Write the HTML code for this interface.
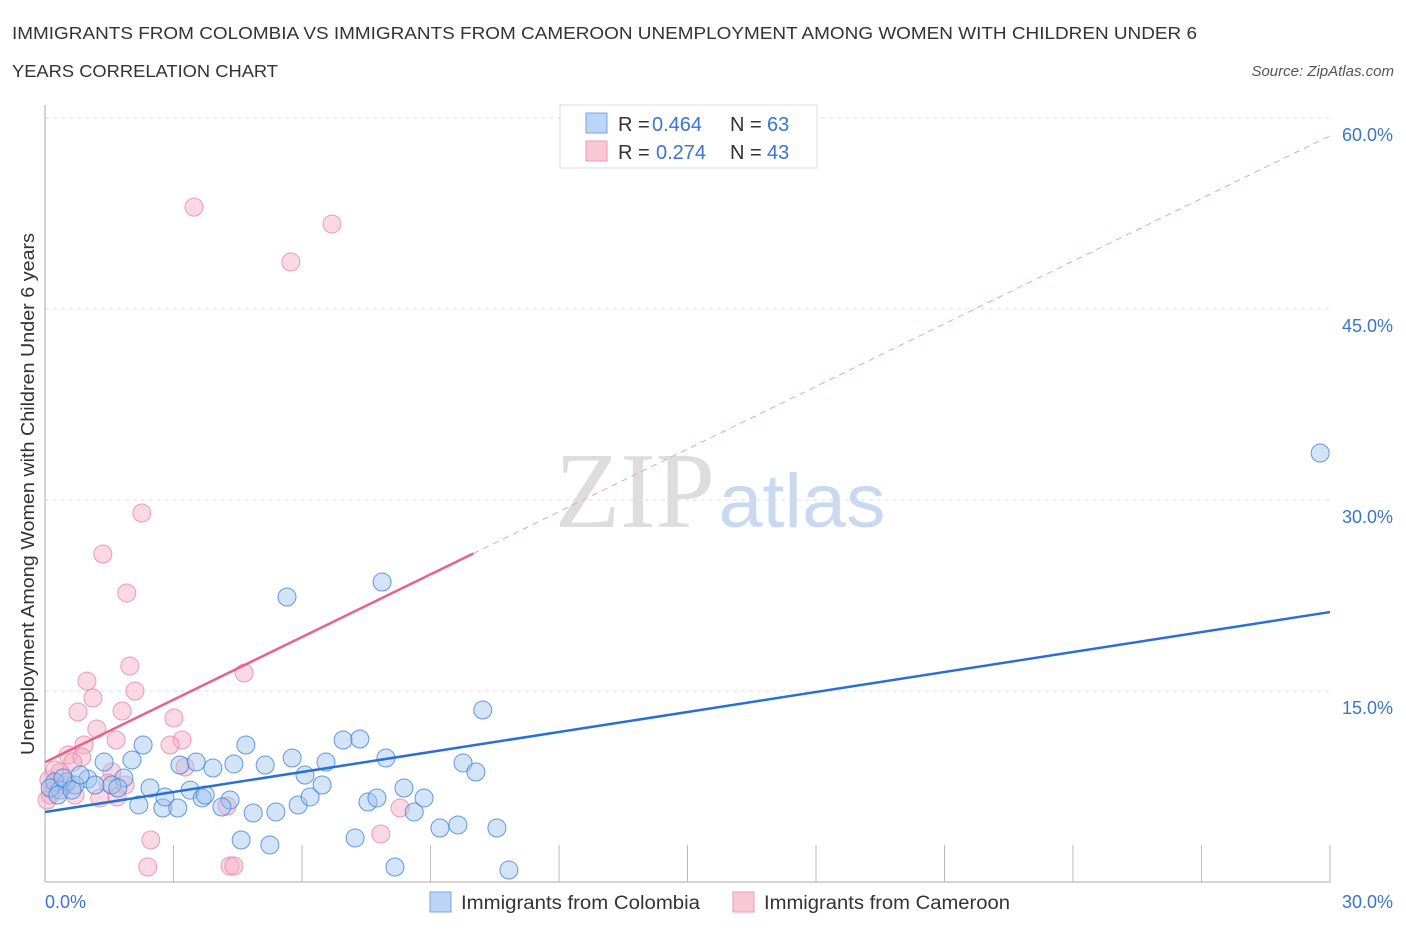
<!DOCTYPE html>
<html><head><meta charset="utf-8"><style>
body{margin:0;background:#fff;font-family:"Liberation Sans",sans-serif;}
svg{display:block}
</style></head><body>
<svg id="chart" width="1406" height="930" xmlns="http://www.w3.org/2000/svg">
<text x="12" y="39" font-size="17.5" fill="#333" textLength="1185" lengthAdjust="spacingAndGlyphs">IMMIGRANTS FROM COLOMBIA VS IMMIGRANTS FROM CAMEROON UNEMPLOYMENT AMONG WOMEN WITH CHILDREN UNDER 6</text>
<text x="12" y="77" font-size="17.5" fill="#333" textLength="266" lengthAdjust="spacingAndGlyphs">YEARS CORRELATION CHART</text>
<text x="1394" y="76" font-size="15" fill="#555" font-style="italic" text-anchor="end">Source: ZipAtlas.com</text>
<text x="0" y="0" transform="translate(34,494) rotate(-90)" font-size="18" fill="#333" text-anchor="middle" textLength="522" lengthAdjust="spacingAndGlyphs">Unemployment Among Women with Children Under 6 years</text>
<g>
<text x="635" y="527" font-size="108" fill="#ddd" font-family="Liberation Serif,serif" text-anchor="middle" textLength="160" lengthAdjust="spacingAndGlyphs">ZIP</text>
<text x="802" y="527" font-size="76" fill="#c9daf0" text-anchor="middle" textLength="167" lengthAdjust="spacingAndGlyphs">atlas</text>
</g>
<g id="grid"></g>
<g id="axes"></g>
<g id="pink-pts"></g>
<g id="blue-pts"></g>
<g id="lines"></g>
<g>
<rect x="560" y="105" width="257" height="63" fill="#fff" stroke="#ddd"/>
<rect x="586" y="113" width="21" height="20" fill="#bcd4f5" stroke="#7aa6e0"/>
<rect x="586" y="141" width="21" height="20" fill="#f9c8d6" stroke="#ee98b3"/>
<text x="618" y="131" font-size="20" fill="#333">R = <tspan x="652" fill="#3a74d0">0.464</tspan><tspan x="730">N = </tspan><tspan x="767" fill="#3a74d0">63</tspan></text>
<text x="618" y="159" font-size="20" fill="#333">R = <tspan x="656" fill="#3a74d0">0.274</tspan><tspan x="730">N = </tspan><tspan x="767" fill="#3a74d0">43</tspan></text>
</g>
<g>
<rect x="430" y="892" width="21" height="20" fill="#bcd4f5" stroke="#7aa6e0"/>
<text x="461" y="909" font-size="19" fill="#333" textLength="239" lengthAdjust="spacingAndGlyphs">Immigrants from Colombia</text>
<rect x="733" y="892" width="21" height="20" fill="#f9c8d6" stroke="#ee98b3"/>
<text x="764" y="909" font-size="19" fill="#333" textLength="246" lengthAdjust="spacingAndGlyphs">Immigrants from Cameroon</text>
</g>
</svg>
<script>
const yTicks=[15,30,45,60];
const yTickLabels=["15.0%","30.0%","45.0%","60.0%"];
const xTickLabels=["0.0%","30.0%"];
const blueX=[29.77,7.87,5.65,10.22,2.29,4.69,6.96,7.35,5.77,7.96,9.76,10.06,1.38,2.03,3.15,3.53,3.92,4.41,5.14,6.07,6.56,1.84,1.00,0.51,2.45,3.39,3.67,4.32,4.86,5.39,5.91,6.19,6.47,7.54,7.75,8.38,8.62,8.85,9.22,9.64,10.55,2.75,2.19,3.10,4.13,4.58,5.25,7.24,8.17,10.83,0.23,0.35,0.12,0.70,1.17,1.56,1.70,0.42,0.82,0.30,0.63,2.80,3.74];
const blueY=[33.69,23.56,22.38,13.51,10.76,10.76,11.15,11.23,9.74,9.74,9.35,8.64,9.42,9.58,9.19,9.42,8.95,9.27,9.19,8.40,9.42,8.17,8.09,7.85,7.38,7.22,6.60,6.44,5.42,5.50,6.05,6.68,7.62,6.28,6.60,7.38,5.50,6.60,4.24,4.48,4.24,5.81,6.05,5.81,5.89,3.30,2.91,3.46,1.18,0.94,7.85,7.22,7.38,7.62,7.62,7.62,7.38,8.17,8.40,6.83,7.22,6.68,6.83];
const pinkX=[3.48,6.70,5.74,2.26,1.35,1.91,1.98,4.65,0.98,2.10,1.12,0.77,1.80,3.01,1.21,3.20,1.66,0.91,2.92,0.54,0.86,0.65,3.27,0.35,1.56,0.09,1.47,1.87,0.21,0.70,1.28,1.68,4.25,8.29,7.84,2.47,2.40,4.32,4.41,0.12,0.05,0.47,0.23];
const pinkY=[53.0,51.67,48.69,28.98,25.76,22.70,16.96,16.41,15.78,15.0,14.45,13.35,13.43,12.88,12.02,11.15,11.15,10.76,10.76,9.97,9.82,9.42,9.03,8.64,8.64,8.01,7.77,7.62,7.22,6.83,6.60,6.68,5.97,5.81,3.77,3.30,1.18,1.26,1.26,6.83,6.44,7.62,8.80];
const blueTrend=[5.5,21.2];
const pinkTrend=[9.4,25.8,58.6];
const NS="http://www.w3.org/2000/svg";
const sx=v=>45+v/30*1285, sy=v=>882-v/15*191;
function mk(tag,attrs,parent){const e=document.createElementNS(NS,tag);for(const k in attrs)e.setAttribute(k,attrs[k]);document.getElementById(parent).appendChild(e);return e;}
yTicks.forEach((t,i)=>{
 const g=mk('line',{x1:45,x2:1330,y1:sy(t),y2:sy(t),stroke:'#ddd','stroke-dasharray':'4,4'},'grid');
 
 
 const l=mk('text',{x:1393,y:sy(t)+23,'font-size':18,fill:'#3a74d0','text-anchor':'end'},'grid');
 l.textContent=yTickLabels[i];
 
 
});
const ya=mk('line',{x1:45,x2:45,y1:105,y2:882,stroke:'#aaa'},'axes');


const xa=mk('line',{x1:45,x2:1330,y1:882,y2:882,stroke:'#aaa'},'axes');


for(let i=1;i<=10;i++){const t=mk('line',{x1:sx(i*3),x2:sx(i*3),y1:845,y2:882,stroke:'#bbb'},'axes');
 
 }
[[0,'start',45],[30,'end',1393]].forEach((d,i)=>{const t=mk('text',{x:d[2],y:908,'font-size':18,fill:'#3a74d0','text-anchor':d[1]},'axes');t.textContent=xTickLabels[i];
 
 });
pinkX.forEach((x,i)=>{const c=mk('circle',{cx:sx(x),cy:sy(pinkY[i]),r:9,fill:'rgba(246,170,195,0.45)',stroke:'rgba(236,130,165,0.8)','stroke-width':1},'pink-pts');
 
 });
blueX.forEach((x,i)=>{const c=mk('circle',{cx:sx(x),cy:sy(blueY[i]),r:9,fill:'rgba(160,196,240,0.45)',stroke:'rgba(60,130,220,0.8)','stroke-width':1},'blue-pts');
 
 });
const bl=mk('line',{x1:sx(0),y1:sy(blueTrend[0]),x2:sx(30),y2:sy(blueTrend[1]),stroke:'#2a6fd6','stroke-width':2.5},'lines');


const pl=mk('line',{x1:sx(0),y1:sy(pinkTrend[0]),x2:sx(10),y2:sy(pinkTrend[1]),stroke:'#e8628c','stroke-width':2.5},'lines');


const pd=mk('line',{x1:sx(10),y1:sy(pinkTrend[1]),x2:sx(30),y2:sy(pinkTrend[2]),stroke:'#eca0b8','stroke-width':1,'stroke-dasharray':'6,5'},'lines');


</script>
</body></html>
